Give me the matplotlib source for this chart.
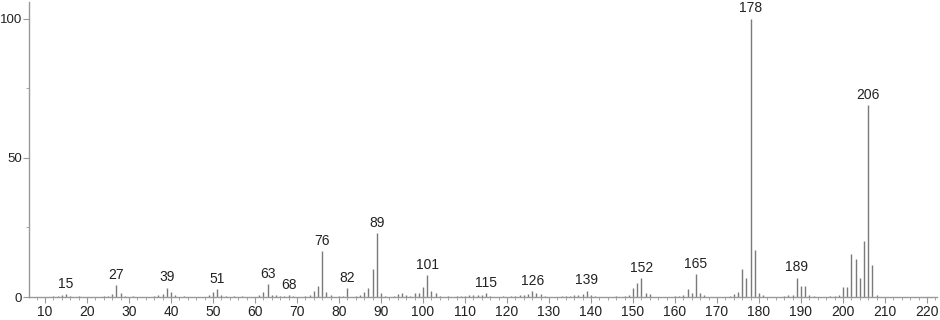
import matplotlib
matplotlib.use("Agg")
import matplotlib.pyplot as plt
from matplotlib.ticker import MultipleLocator

masses = [12, 13, 14, 15, 16, 18, 24, 25, 26, 27, 28, 29, 31, 36, 37, 38, 39, 40, 41, 43,
          49, 50, 51, 52, 53, 55, 57, 61, 62, 63, 64, 65, 66, 67, 68, 69, 72, 73, 74, 75,
          76, 77, 78, 80, 81, 82, 84, 85, 86, 87, 88, 89, 90, 91, 93, 94, 95, 96, 97, 98,
          99, 100, 101, 102, 103, 104, 106, 108, 109, 110, 111, 112, 113, 114, 115, 116,
          119, 121, 122, 123, 124, 125, 126, 127, 128, 129, 133, 134, 135, 136, 137, 138,
          139, 140, 141, 146, 148, 149, 150, 151, 152, 153, 154, 160, 161, 162, 163, 164,
          165, 166, 167, 173, 174, 175, 176, 177, 178, 179, 180, 181, 186, 187, 188, 189,
          190, 191, 192, 193, 197, 198, 199, 200, 201, 202, 203, 204, 205, 206, 207, 208]
intensities = [0.3, 0.5, 0.7, 1.0, 0.3, 0.2, 0.3, 0.5, 1.2, 4.3, 1.5, 0.5, 0.3, 0.3, 0.8, 1.2, 3.4, 1.7, 0.7, 0.3,
               0.7, 1.8, 2.8, 0.7, 0.5, 0.5, 0.3, 0.6, 1.8, 4.5, 0.8, 0.6, 0.3, 0.5, 0.6, 0.5, 0.3, 0.8, 2.2, 4.0,
               16.5, 1.8, 0.8, 0.3, 0.3, 3.2, 0.3, 0.8, 1.8, 3.3, 10.0, 23.0, 1.6, 0.5, 0.5, 1.0, 1.6, 0.7, 0.5, 1.3,
               1.3, 3.5, 7.8, 2.3, 1.4, 0.5, 0.3, 0.5, 0.3, 0.5, 0.7, 0.7, 0.7, 0.7, 1.3, 0.3,
               0.3, 0.3, 0.5, 0.7, 0.7, 1.0, 2.0, 1.5, 1.2, 0.5, 0.3, 0.5, 0.5, 0.7, 0.7, 1.0,
               2.2, 0.7, 0.3, 0.3, 0.5, 0.8, 3.2, 5.0, 6.8, 1.5, 1.0, 0.3, 0.5, 0.7, 3.0, 1.5,
               8.2, 1.5, 0.7, 0.5, 1.2, 1.8, 10.0, 7.0, 100.0, 17.0, 1.6, 0.6, 0.5, 0.8, 0.8, 7.0,
               3.8, 3.8, 0.8, 0.5, 0.5, 0.5, 0.8, 3.7, 3.7, 15.5, 13.5, 7.0, 20.0, 69.0, 11.5, 0.8]
labeled = [15, 27, 39, 51, 63, 68, 76, 82, 89, 101, 115, 126, 139, 152, 165, 178, 189, 206]
x_ticks = list(range(10, 221, 10))
y_ticks = [0, 50, 100]

plt.rcParams['font.family'] = ['Liberation Sans', 'DejaVu Sans']

fig = plt.figure(figsize=(9.4, 3.2), dpi=100)
W, H = 940, 320
left, right, bottom, top = 29, 937, 297, 2
ax = fig.add_axes([left / W, 1 - bottom / H, (right - left) / W, (bottom - top) / H])

ax.vlines(masses, 0, intensities, color='#7a7a7a', linewidth=1.0)
lookup = dict(zip(masses, intensities))
for m in labeled:
    ax.annotate(str(m), (m, lookup[m]), xytext=(0, 2.5), textcoords='offset points',
                ha='center', va='bottom', fontsize=10, color='#222222')

ax.set_xlim(6.2, 222.4)
ax.set_ylim(0, 106.1)
ax.set_xticks(x_ticks)
ax.set_yticks(y_ticks)
ax.xaxis.set_minor_locator(MultipleLocator(2))
ax.yaxis.set_minor_locator(MultipleLocator(25))
for s in ['top', 'right']:
    ax.spines[s].set_visible(False)
for s in ['left', 'bottom']:
    ax.spines[s].set_color('#999999')
    ax.spines[s].set_linewidth(1.0)
ax.tick_params(which='major', length=4, color='#999999', labelsize=10, labelcolor='#222222', pad=2)
ax.tick_params(axis='y', which='major', labelsize=9.5, pad=1)
ax.tick_params(which='minor', length=2, color='#999999')
ax.patch.set_alpha(0)

fig.savefig('out.png', dpi=100)
